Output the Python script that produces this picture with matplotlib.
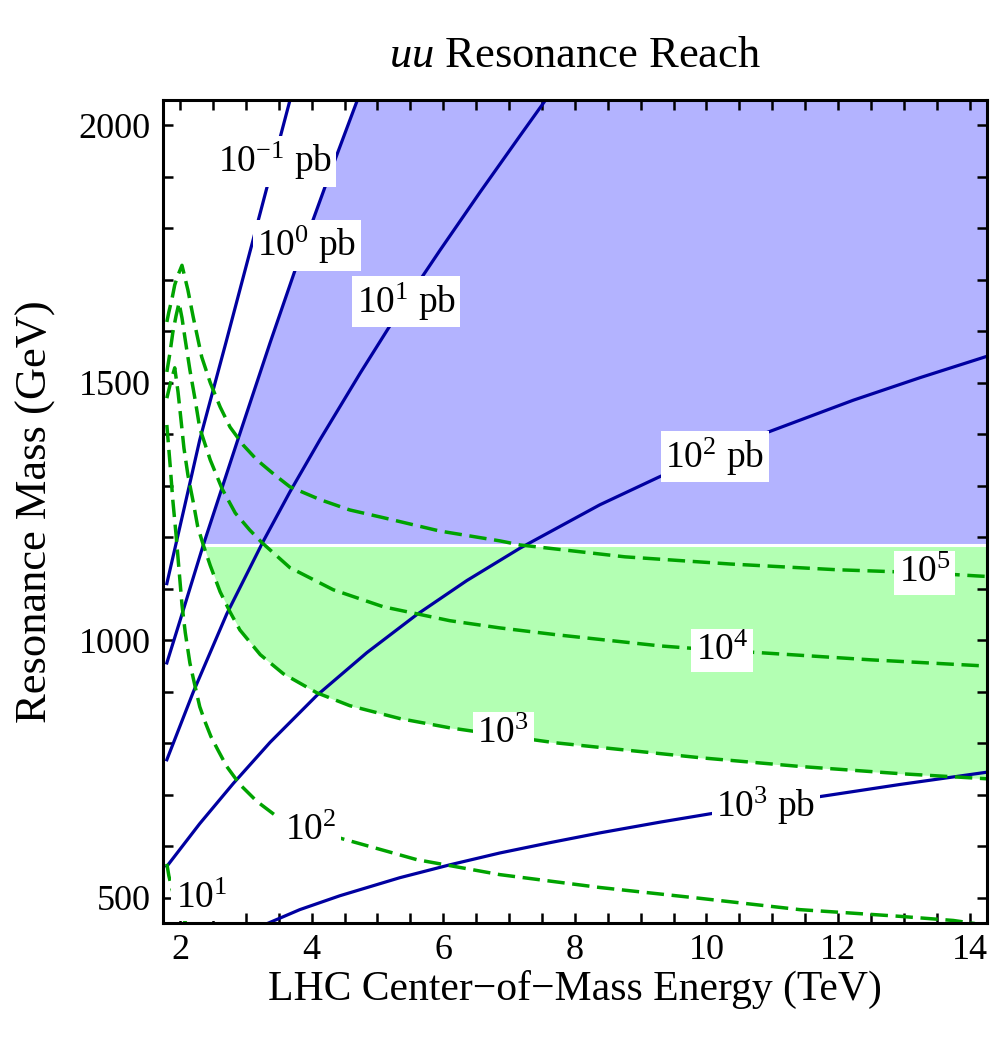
import numpy as np
import matplotlib
matplotlib.use('Agg')
import matplotlib.pyplot as plt
from matplotlib.ticker import MultipleLocator

plt.rcParams['font.family'] = ['Liberation Serif', 'DejaVu Serif']
plt.rcParams['mathtext.fontset'] = 'custom'
plt.rcParams['mathtext.rm'] = 'Liberation Serif'
plt.rcParams['mathtext.it'] = 'Liberation Serif:italic'
plt.rcParams['lines.scale_dashes'] = False

# cross section contours (solid blue), energy in TeV / mass in GeV
pb_m1_x = [1.80, 2.05, 2.30, 2.70, 3.11, 3.67, 3.76]
pb_m1_y = [1110, 1249, 1389, 1579, 1777, 2048, 2091]

pb_0_x = [1.80, 2.00, 2.354, 2.87, 3.37, 3.82, 4.28, 4.74]
pb_0_y = [956, 1038, 1185, 1386, 1578, 1745, 1907, 2064]

pb_1_x = [1.80, 2.20, 2.71, 3.26, 3.67, 4.13, 4.74, 5.34, 5.95, 6.56, 7.17, 7.78]
pb_1_y = [768, 899, 1051, 1191, 1288, 1390, 1519, 1641, 1757, 1870, 1980, 2089]

pb_2_x = [1.80, 2.30, 2.81, 3.37, 4.08, 4.84, 5.60, 6.36, 7.17, 8.38, 9.28,
          10.13, 10.85, 12.23, 13.25, 14.28]
pb_2_y = [561, 644, 722, 802, 893, 976, 1050, 1116, 1179, 1263, 1317,
          1364, 1400, 1466, 1510, 1552]

pb_3_x = [3.14, 3.29, 3.82, 4.43, 5.34, 6.10, 6.86, 7.62, 8.38, 9.30, 10.10, 10.89,
          11.70, 12.94, 14.27, 14.39]
pb_3_y = [438, 448, 477, 504, 539, 564, 587, 607, 626, 647, 664, 680,
          696, 720, 744, 746]

# event-count contours (green dashed)
ev_5_x = [1.80, 1.83, 1.88, 1.92, 1.97, 2.03, 2.12, 2.20, 2.33, 2.46, 2.61, 2.76, 2.96,
          3.17, 3.44, 3.67, 4.13, 4.58, 5.09, 5.95, 6.86, 7.17, 8.76, 10.37, 11.97,
          13.32, 14.10, 14.39]
ev_5_y = [1618, 1637, 1664, 1690, 1709, 1728, 1680, 1628, 1550, 1500, 1453, 1414, 1379,
          1350, 1321, 1298, 1273, 1253, 1238, 1212, 1193, 1185, 1162, 1148, 1137,
          1131, 1125, 1123]

ev_4_x = [1.80, 1.85, 1.89, 1.94, 1.985, 2.03, 2.08, 2.15, 2.23, 2.30, 2.46, 2.64, 2.84,
          3.06, 3.25, 3.67, 4.33, 5.09, 6.10, 6.86, 7.70, 9.30, 10.24, 10.80, 12.50,
          14.10, 14.39]
ev_4_y = [1521, 1560, 1597, 1630, 1655, 1626, 1583, 1525, 1467, 1412, 1350, 1294, 1247,
          1214, 1189, 1141, 1098, 1065, 1038, 1024, 1011, 989, 980, 976, 962,
          951, 949]

ev_3_x = [1.80, 1.86, 1.92, 1.97, 2.015, 2.06, 2.12, 2.20, 2.27, 2.354, 2.46, 2.61,
          2.76, 2.91, 3.22, 3.57, 4.08, 4.58, 5.34, 6.10, 6.91, 7.70, 8.38, 9.90,
          11.42, 12.94, 14.27, 14.39]
ev_3_y = [1470, 1502, 1529, 1482, 1428, 1373, 1321, 1269, 1220, 1185, 1145, 1094,
          1055, 1020, 972, 935, 898, 873, 848, 830, 815, 801, 792, 772,
          755, 741, 731, 730]

ev_2_x = [1.80, 1.85, 1.89, 1.94, 1.985, 2.03, 2.08, 2.15, 2.23, 2.30, 2.38, 2.47, 2.58,
          2.71, 2.91, 3.17, 3.47, 3.98, 4.40, 5.60, 6.86, 8.38, 9.90, 11.42, 12.94,
          13.75, 14.08]
ev_2_y = [1418, 1340, 1273, 1205, 1137, 1069, 1015, 956, 910, 871, 842, 813, 786,
          755, 720, 687, 658, 632, 617, 574, 545, 520, 499, 477, 464,
          456, 450]

ev_1_x = [1.80, 1.83, 1.88, 1.94, 2.015, 2.11]
ev_1_y = [566, 543, 516, 491, 468, 446]

# label text and where it sits on its curve
pb_labels = [r'$10^{-1}$ pb', r'$10^{0}$ pb', r'$10^{1}$ pb', r'$10^{2}$ pb', r'$10^{3}$ pb']
pb_label_x = [3.44, 3.93, 5.44, 10.13, 10.90]
pb_label_y = [1930, 1767, 1657, 1356, 679]
ev_labels = [r'$10^{5}$', r'$10^{4}$', r'$10^{3}$', r'$10^{2}$', r'$10^{1}$']
ev_label_x = [13.32, 10.24, 6.91, 3.98, 2.33]
ev_label_y = [1131, 980, 819, 630, 498]

split_mass = 1185
x_lo, x_hi = 1.746, 14.257
y_lo, y_hi = 451, 2049

blue = '#0000a0'
green = '#00a300'

fig = plt.figure(figsize=(10.03, 10.37), dpi=100)
ax = fig.add_axes([0.1628, 0.1099, 0.8208, 0.7937])

# blue region: right of the 10^0 pb curve, above split mass
p0x = np.array(pb_0_x)
p0y = np.array(pb_0_y)
m = p0y >= split_mass
ax.fill_betweenx(p0y[m], p0x[m], 14.5, color='#b3b3ff', lw=0, zorder=1)

# green region: between 10^3 contour and split mass
e3x = np.array(ev_3_x)
e3y = np.array(ev_3_y)
k = e3x >= 2.354
ax.fill_between(e3x[k], e3y[k], split_mass, color='#b3ffb3', lw=0, zorder=1)
ax.axhline(split_mass, color='white', lw=2.2, zorder=1.5)

for xx, yy in [(pb_m1_x, pb_m1_y), (pb_0_x, pb_0_y), (pb_1_x, pb_1_y),
               (pb_2_x, pb_2_y), (pb_3_x, pb_3_y)]:
    ax.plot(xx, yy, color=blue, lw=2.3, zorder=2, solid_joinstyle='round')

for xx, yy in [(ev_5_x, ev_5_y), (ev_4_x, ev_4_y), (ev_3_x, ev_3_y),
               (ev_2_x, ev_2_y), (ev_1_x, ev_1_y)]:
    ax.plot(xx, yy, color=green, lw=2.5, dashes=(12.5, 5.5), zorder=2)

box = dict(boxstyle='square,pad=0.12', facecolor='white', edgecolor='none')
for t, lx, ly in zip(pb_labels + ev_labels, pb_label_x + ev_label_x, pb_label_y + ev_label_y):
    ax.text(lx, ly, t, fontsize=27, ha='center', va='center', bbox=box, zorder=3)

ax.set_xlim(x_lo, x_hi)
ax.set_ylim(y_lo, y_hi)
ax.xaxis.set_major_locator(MultipleLocator(2))
ax.xaxis.set_minor_locator(MultipleLocator(0.5))
ax.yaxis.set_major_locator(MultipleLocator(500))
ax.yaxis.set_minor_locator(MultipleLocator(100))
ax.tick_params(which='both', direction='in', top=True, right=True, length=7.2, width=1.8,
               labelsize=26)
ax.tick_params(axis='x', pad=8)
ax.tick_params(axis='y', pad=9)
for s in ax.spines.values():
    s.set_linewidth(2.2)

ax.set_xlabel('LHC Center\u2212of\u2212Mass Energy (TeV)', fontsize=30, labelpad=2)
ax.set_ylabel('Resonance Mass (GeV)', fontsize=32, labelpad=16)
ax.set_title(r'$\mathit{uu}$ Resonance Reach', fontsize=32, pad=24)

fig.savefig('out.png', dpi=100)
